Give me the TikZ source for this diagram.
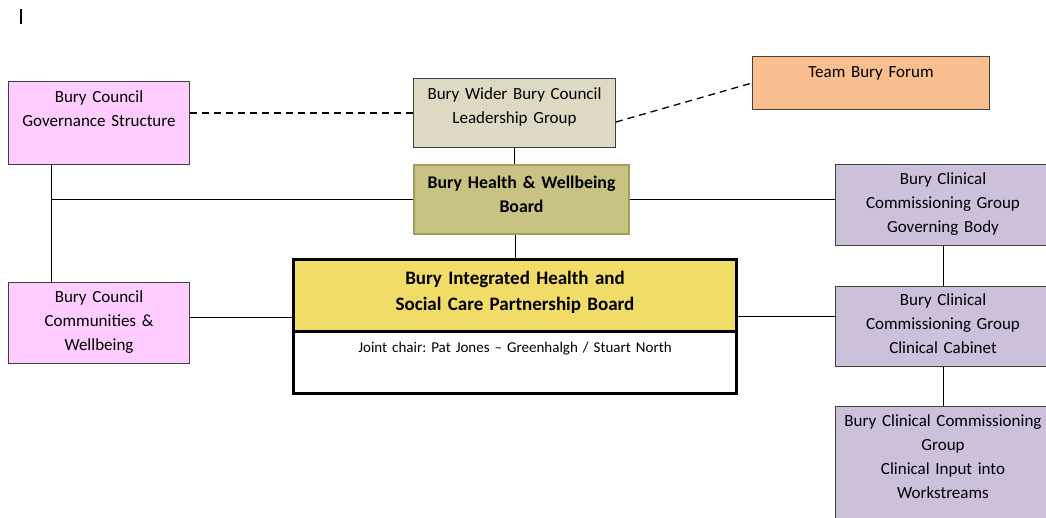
\documentclass[tikz,border=0pt]{standalone}
\usepackage{fontspec}
\setmainfont{Carlito}
\usepackage{tikz}
\frenchspacing

\definecolor{govpink}{HTML}{FFCCFF}
\definecolor{leadtan}{HTML}{DDD9C3}
\definecolor{forumorange}{HTML}{FABF8F}
\definecolor{hwbolive}{HTML}{C8C283}
\definecolor{hwbedge}{HTML}{A39D5C}
\definecolor{ccgpurple}{HTML}{CCC0DA}
\definecolor{boardyellow}{HTML}{F0DC66}
\definecolor{edgegrey}{HTML}{404040}

\begin{document}
\begin{tikzpicture}
  [x=1pt,y=-1pt,line width=0.9pt,
   every node/.style={draw=edgegrey,line width=1pt,anchor=north west,inner sep=0pt,
     align=center,font=\fontsize{17}{24}\selectfont,text height=21pt},
   box/.style n args={2}{text width=#1,text depth=#2},
   link/.style={dash pattern=on 7pt off 5pt,line width=1.3pt}]
  \useasboundingbox (0,0) rectangle (1046,517);
  \draw[line width=1.5pt] (21,9) -- (21,24);

  \node[box={181pt}{62pt},fill=govpink] (gov) at (8,81) {Bury Council\\Governance Structure};
  \node[box={202pt}{48pt},fill=leadtan] (lead) at (413,78) {Bury Wider Bury Council\\Leadership Group};
  \node[box={237pt}{32pt},fill=forumorange] (forum) at (752,56) {Team Bury Forum};
  \node[box={215pt}{46pt},fill=hwbolive,draw=hwbedge,line width=2pt,text height=23pt,
    font=\fontsize{17.8}{24}\selectfont\bfseries] (hwb) at (413,164) {Bury Health \& Wellbeing\\Board};
  \node[box={215pt}{61pt},fill=ccgpurple,text height=20pt] (ccg) at (835,164) {Bury Clinical\\Commissioning Group\\Governing Body};
  \node[box={181pt}{61pt},fill=govpink,text height=20pt] (comm) at (8,282) {Bury Council\\Communities \&\\Wellbeing};
  \node[box={443pt}{41pt},fill=white,draw=black,line width=3pt,
    font=\fontsize{15}{17}\selectfont] (chair) at (292,330) {Joint chair: Pat Jones -- Greenhalgh / Stuart North};
  \node[box={443pt}{47pt},fill=boardyellow,draw=black,line width=3pt,text height=25pt,
    font=\fontsize{19}{26}\selectfont\bfseries] (ihsc) at (292,258) {Bury Integrated Health and\\Social Care Partnership Board};
  \node[box={215pt}{61pt},fill=ccgpurple,text height=19pt] (cab) at (835,286) {Bury Clinical\\Commissioning Group\\Clinical Cabinet};
  \node[box={215pt}{100pt},fill=ccgpurple,text height=20pt] (work) at (835,406) {Bury Clinical Commissioning\\Group\\Clinical Input into\\Workstreams};

  \coordinate (gl) at ([xshift=43pt]gov.south west);
  \coordinate (cl) at ([xshift=43pt]comm.north west);
  \coordinate (jn) at (gl |- hwb.west);
  \coordinate (cm) at ([yshift=6pt]comm.east);
  \coordinate (cb) at ([yshift=10pt]cab.west);

  \draw[link] (gov.east |- lead.west) -- (lead.west);
  \draw[link] ([yshift=-9pt]lead.east) -- (forum.west);

  \foreach \from/\to in {gl/cl,jn/hwb.west,lead.south/lead.south |- hwb.north,
      ihsc.north |- hwb.south/ihsc.north,hwb.east/hwb.east -| ccg.west,
      cm/cm -| ihsc.west,ihsc.east |- cb/cb,
      ccg.south/cab.north,cab.south/work.north}
    \draw (\from) -- (\to);

\end{tikzpicture}
\end{document}
